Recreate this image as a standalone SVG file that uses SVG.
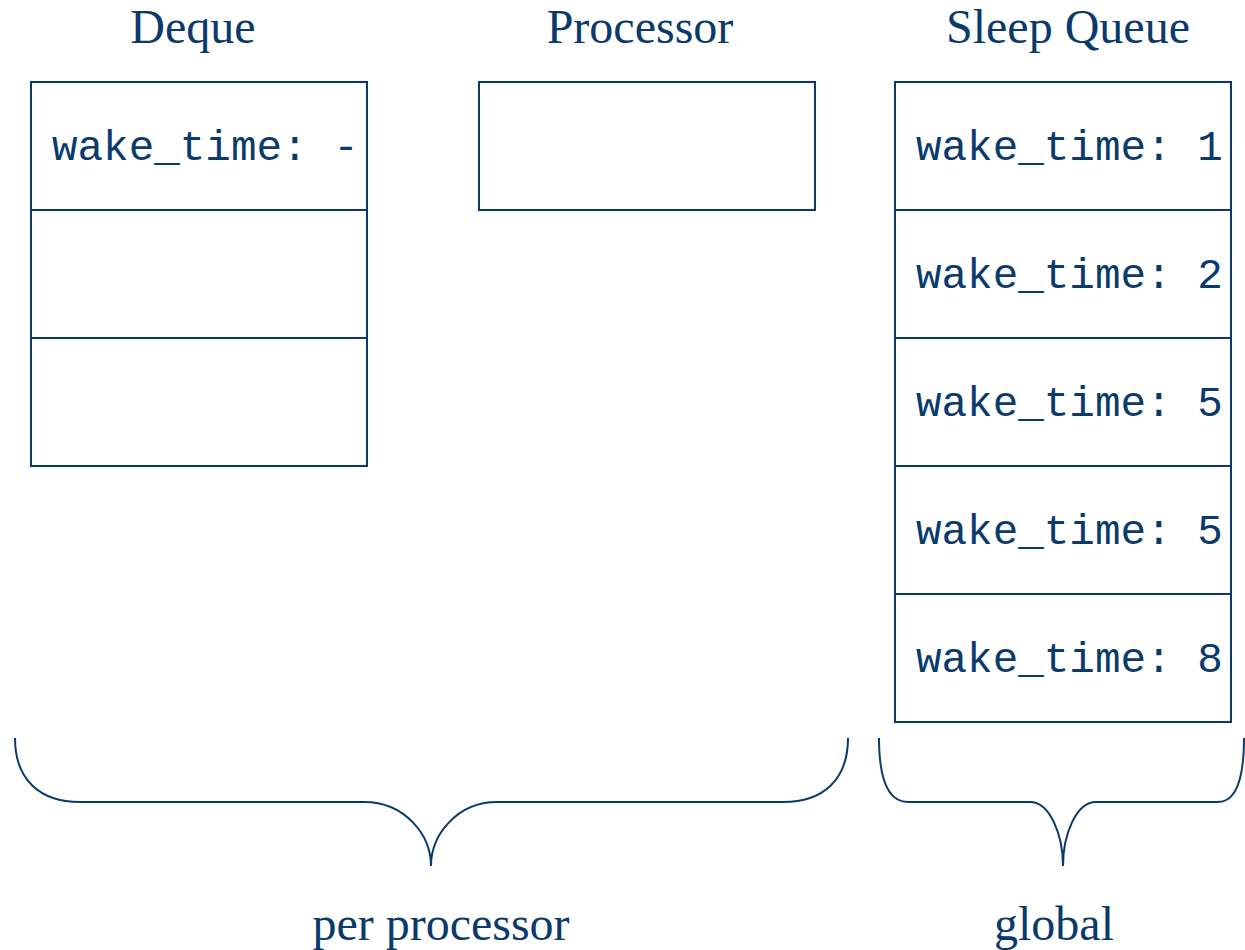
<svg xmlns="http://www.w3.org/2000/svg" width="1245" height="950" viewBox="0 0 1245 950">
<style>
.cell{fill:#fff;stroke:#0a3a6c;stroke-width:2}
.title{font-family:"Liberation Serif","Times New Roman",serif;font-size:48px;fill:#0a3a6c;text-anchor:middle}
.mono{font-family:"Liberation Mono","Courier New",monospace;font-size:42.6px;fill:#0a3a6c}
.brace{fill:none;stroke:#0a3a6c;stroke-width:2}
</style>
<rect width="1245" height="950" fill="#fff"/>
<g id="titles">
<text class="title" x="193" y="43">Deque</text>
<text class="title" x="640" y="43">Processor</text>
<text class="title" x="1068" y="43">Sleep Queue</text>
</g>
<g id="deque">
<rect class="cell" x="31" y="82" width="336" height="128"/>
<rect class="cell" x="31" y="210" width="336" height="128"/>
<rect class="cell" x="31" y="338" width="336" height="128"/>
<text class="mono" x="52" y="160">wake_time: -</text>
</g>
<g id="processor">
<rect class="cell" x="479" y="82" width="336" height="128"/>
</g>
<g id="sleep-queue">
<rect class="cell" x="895" y="82" width="336" height="128"/>
<rect class="cell" x="895" y="210" width="336" height="128"/>
<rect class="cell" x="895" y="338" width="336" height="128"/>
<rect class="cell" x="895" y="466" width="336" height="128"/>
<rect class="cell" x="895" y="594" width="336" height="128"/>
<text class="mono" x="916" y="160">wake_time: 1</text>
<text class="mono" x="916" y="288">wake_time: 2</text>
<text class="mono" x="916" y="416">wake_time: 5</text>
<text class="mono" x="916" y="544">wake_time: 5</text>
<text class="mono" x="916" y="672">wake_time: 8</text>
</g>
<g id="connectors">
<path class="brace" d="M15,738 C15,780 40,802 80,802 L364,802 C405,802 431,835 431,866 C431,835 457,802 497,802 L783,802 C823,802 848,780 848,738"/>
<path class="brace" d="M879,738 C879,780 888,802 908,802 L1030,802 C1050,802 1063,835 1063,866 C1063,835 1076,802 1096,802 L1218,802 C1236,802 1244,780 1244,738"/>
</g>
<g id="labels">
<text class="title" x="441" y="940">per processor</text>
<text class="title" x="1054" y="940">global</text>
</g>
</svg>
